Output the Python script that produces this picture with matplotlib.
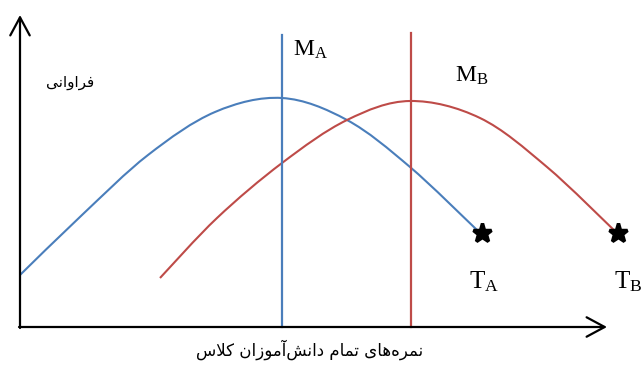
import matplotlib
matplotlib.use("Agg")
import matplotlib.pyplot as plt
import numpy as np
from matplotlib.path import Path
from matplotlib.patches import PathPatch

# presentation forms (isolated, final, initial, medial) for the letters used
FORMS = {
    'ا': ('\uFE8D', '\uFE8E', None, None),
    'آ': ('\uFE81', '\uFE82', None, None),
    'د': ('\uFEA9', '\uFEAA', None, None),
    'ر': ('\uFEAD', '\uFEAE', None, None),
    'ز': ('\uFEAF', '\uFEB0', None, None),
    'و': ('\uFEED', '\uFEEE', None, None),
    'ت': ('\uFE95', '\uFE96', '\uFE97', '\uFE98'),
    'س': ('\uFEB1', '\uFEB2', '\uFEB3', '\uFEB4'),
    'ش': ('\uFEB5', '\uFEB6', '\uFEB7', '\uFEB8'),
    'ف': ('\uFED1', '\uFED2', '\uFED3', '\uFED4'),
    'ک': ('\uFB8E', '\uFB8F', '\uFEDB', '\uFEDC'),
    'ل': ('\uFEDD', '\uFEDE', '\uFEDF', '\uFEE0'),
    'م': ('\uFEE1', '\uFEE2', '\uFEE3', '\uFEE4'),
    'ن': ('\uFEE5', '\uFEE6', '\uFEE7', '\uFEE8'),
    'ه': ('\uFEE9', '\uFEEA', '\uFEEB', '\uFEEC'),
    'ی': ('\uFEEF', '\uFEF0', '\uFEF3', '\uFEF4'),
}


def dual(c):
    return c in FORMS and FORMS[c][2] is not None


def shape(text):
    # matplotlib has no arabic shaping, so join letters by hand and reverse
    out = []
    i = 0
    while i < len(text):
        c = text[i]
        if c not in FORMS:
            if c != '\u200c':
                out.append(c)
            i += 1
            continue
        prev = text[i - 1] if i > 0 else ''
        joins_prev = dual(prev)
        if c == 'ل' and i + 1 < len(text) and text[i + 1] == 'ا':
            out.append('\uFEFC' if joins_prev else '\uFEFB')
            i += 2
            continue
        nxt = text[i + 1] if i + 1 < len(text) else ''
        joins_next = dual(c) and nxt in FORMS
        iso, fin, ini, med = FORMS[c]
        if joins_prev and joins_next:
            out.append(med)
        elif joins_prev:
            out.append(fin)
        elif joins_next:
            out.append(ini)
        else:
            out.append(iso)
        i += 1
    return ''.join(reversed(out))


def smooth_line(ax, xs, ys, **kw):
    # smoothed line like office charts: bezier segments through the points
    p = np.column_stack([xs, ys]).astype(float)
    verts = [p[0]]
    codes = [Path.MOVETO]
    n = len(p)
    for i in range(n - 1):
        p0 = p[i - 1] if i > 0 else p[i]
        p3 = p[i + 2] if i + 2 < n else p[i + 1]
        c1 = p[i] + (p[i + 1] - p0) / 6
        c2 = p[i + 1] - (p3 - p[i]) / 6
        verts += [c1, c2, p[i + 1]]
        codes += [Path.CURVE4] * 3
    ax.add_patch(PathPatch(Path(verts, codes), fill=False, **kw))


# data (score, frequency)
blue_x = [20, 82, 148, 215, 282, 347, 410, 477]
blue_y = [52, 112, 172, 215, 229, 207, 160, 97]
red_x = [160, 217, 282, 347, 410, 480, 547, 618]
red_y = [49, 109, 164, 207, 226, 209, 160, 93]

mean_a, mean_a_top = 282, 292
mean_b, mean_b_top = 411, 294
tops_x = [482, 618]
tops_y = [94, 94]

y_label = 'فراوانی'
x_label = 'نمره‌های تمام دانش‌آموزان کلاس'

blue = '#4A7EBB'
red = '#BE4B48'

plt.rcParams['mathtext.fontset'] = 'custom'
plt.rcParams['mathtext.rm'] = 'Liberation Serif'

fig = plt.figure(figsize=(6.41, 3.69), dpi=100)
ax = fig.add_axes([0, 0, 1, 1])
ax.set_xlim(0, 641)
ax.set_ylim(-42, 327)
ax.axis('off')

# axes with open arrow heads
arrow = dict(arrowstyle='->,head_length=1.3,head_width=0.7', lw=1.6,
             color='black', mutation_scale=10, shrinkA=0, shrinkB=0)
ax.annotate('', xy=(20, 312), xytext=(20, -1), arrowprops=arrow)
ax.annotate('', xy=(607, 0), xytext=(19, 0), arrowprops=arrow)

smooth_line(ax, blue_x, blue_y, edgecolor=blue, lw=1.5)
smooth_line(ax, red_x, red_y, edgecolor=red, lw=1.5)
ax.plot([mean_a, mean_a], [0, mean_a_top], color=blue, lw=1.6)
ax.plot([mean_b, mean_b], [0, mean_b_top], color=red, lw=1.6)
ax.plot(tops_x, tops_y, linestyle='none', marker='*', ms=14, mew=2.5,
        color='black')

ax.text(293, 271, r'$\mathrm{M_A}$', fontsize=17, ha='left', va='baseline')
ax.text(455, 245, r'$\mathrm{M_B}$', fontsize=17, ha='left', va='baseline')
ax.text(469, 39, r'$\mathrm{T_A}$', fontsize=18, ha='left', va='baseline')
ax.text(614, 39, r'$\mathrm{T_B}$', fontsize=18, ha='left', va='baseline')

ax.text(70, 245, shape(y_label), fontsize=11, family='DejaVu Sans',
        ha='center', va='center')
ax.text(310, -23, shape(x_label), fontsize=12, family='DejaVu Sans',
        ha='center', va='center')

fig.savefig('out.png', dpi=100)
